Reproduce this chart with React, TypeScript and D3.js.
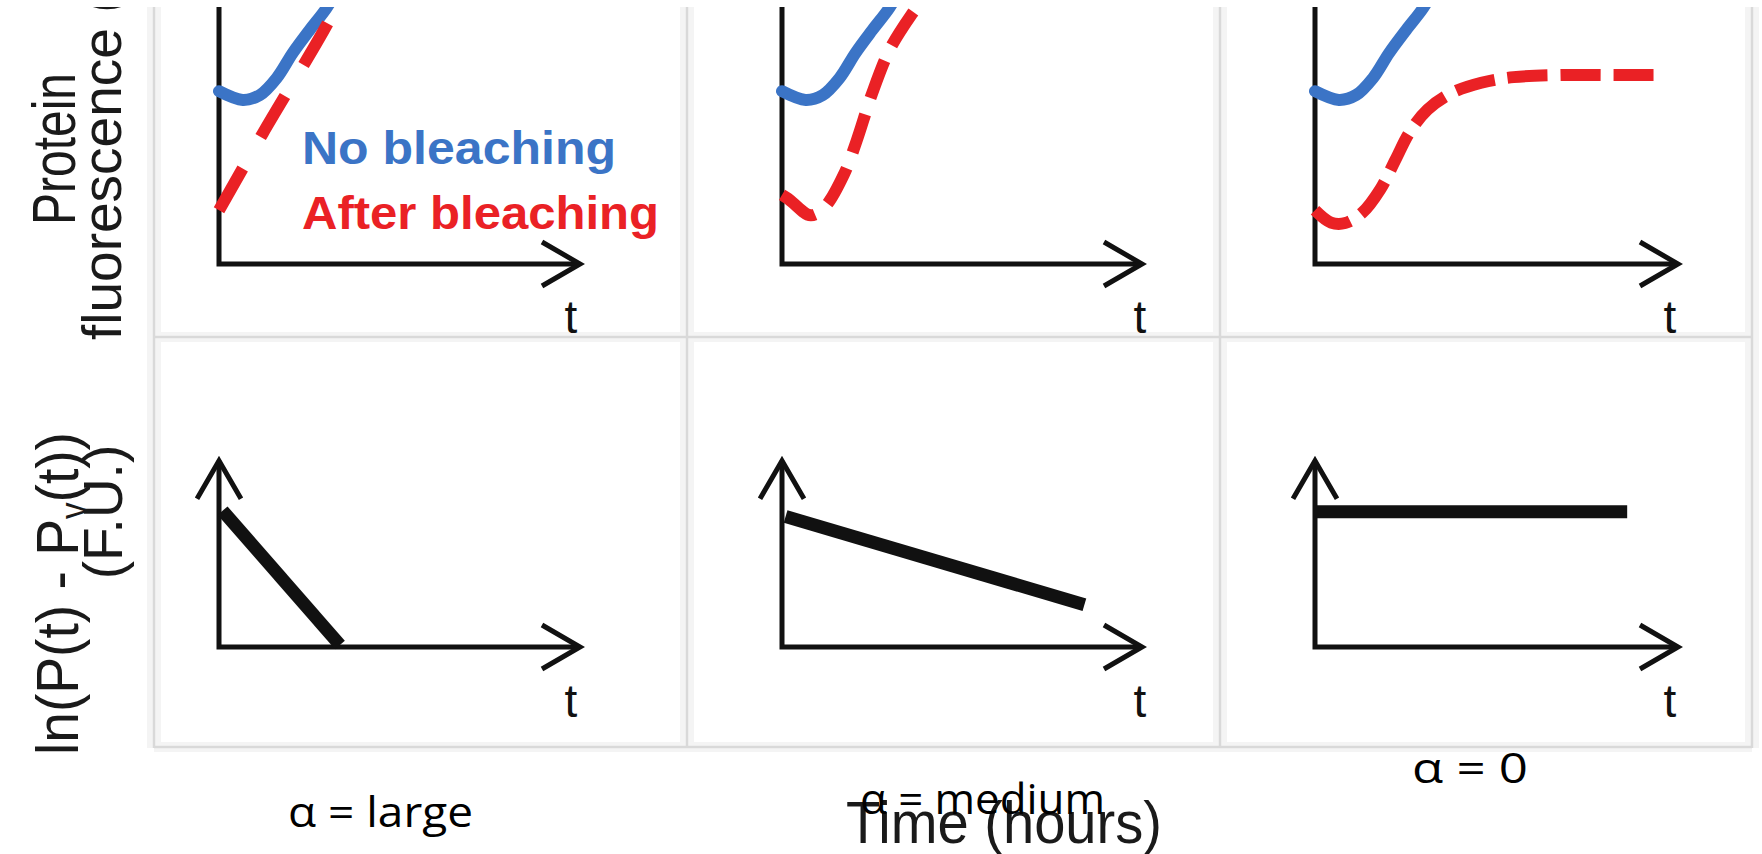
import React from "react";
import * as d3 from "d3";

// ---- data ----
const alphaLabels = ["α  = large", "α  = medium", "α  = 0"];
const topLegend = ["No bleaching", "After bleaching"];
const yLabelTop = ["Protein", "fluorescence (F.U.)"];
const axisLetter = "t";
const xTitle = "Time (hours)";

// top row: protein fluorescence curves, t in [0,10], value in [0,10]
const noBleaching: [number, number][] = [
  [0, 6.75], [0.66, 6.41], [1.13, 6.6], [1.6, 7.27], [2.04, 8.24], [2.51, 9.14], [2.98, 10.0], [3.31, 10.8],
];
const afterLarge: [number, number][] = [
  [0, 2.1], [1.22, 5.12], [3.16, 9.8], [3.45, 10.8],
];
const afterMedium: [number, number][] = [
  [0, 2.7], [0.17, 2.55], [0.8, 1.9], [1.2, 2.25], [1.72, 3.5], [2.07, 4.8], [2.5, 6.65], [3.0, 8.4], [3.6, 9.75], [3.95, 10.4],
];
const afterZero: [number, number][] = [
  [0, 2.1], [0.44, 1.62], [0.83, 1.6], [1.3, 2.0], [1.8, 2.92], [2.22, 4.08], [2.6, 5.13], [3.1, 6.03],
  [3.78, 6.69], [4.58, 7.08], [5.47, 7.3], [6.77, 7.38], [8.26, 7.38], [9.64, 7.38],
];
// bottom row: ln(P - Pv) lines
const logLarge: [number, number][] = [[0.1, 7.1], [3.35, 0.1]];
const logMedium: [number, number][] = [[0.1, 6.8], [8.4, 2.2]];
const logZero: [number, number][] = [[0, 7.05], [8.6, 7.05]];

const afterSeries = [afterLarge, afterMedium, afterZero];
const logSeries = [logLarge, logMedium, logZero];
const dashes = ["48 36", "40 17", "40 13"];

const BLUE = "#3b74c6";
const RED = "#ea2125";
const INK = "#111";

export default function App() {
  const W = 1762, H = 854;
  const origins = [219, 782, 1315];
  const tips = [580, 1142, 1678];
  const xs = origins.map((o, i) => d3.scaleLinear().domain([0, 10]).range([o, tips[i]]));
  const topY = d3.scaleLinear().domain([0, 10]).range([264, 8]);
  const botY = d3.scaleLinear().domain([0, 10]).range([647, 455]);
  const top0 = topY(0), bot0 = botY(0), botTop = botY(9.7);

  const curve = (xsI: d3.ScaleLinear<number, number>, ys: d3.ScaleLinear<number, number>) =>
    d3.line<[number, number]>().x(d => xsI(d[0])).y(d => ys(d[1])).curve(d3.curveCatmullRom.alpha(0.5));
  const straight = (xsI: d3.ScaleLinear<number, number>, ys: d3.ScaleLinear<number, number>) =>
    d3.line<[number, number]>().x(d => xsI(d[0])).y(d => ys(d[1]));

  const hArrow = (x: number, y: number) => `M${x - 38},${y - 22}L${x},${y}L${x - 38},${y + 22}`;
  const vArrow = (x: number, y: number) => `M${x - 22},${y + 38}L${x},${y}L${x + 22},${y + 38}`;

  const vBorders = [154, 687, 1220, 1752];
  const hBorders = [337, 747];
  const sans = "Liberation Sans, Arial, Helvetica, sans-serif";
  const narrow = "Liberation Sans Narrow, Open Sans, Liberation Sans, sans-serif";
  const alphaX = [288, 860, 1412];
  const alphaY = [827, 814, 783];
  const alphaLen = [185, 245, 116];
  const tX = [571, 1140, 1670];

  return (
    <svg width={W} height={H} style={{ position: "absolute", left: 0, top: 0, background: "#fff" }}>
      <rect x={0} y={0} width={W} height={H} fill="#fff" />
      {/* panel grid */}
      <g>
        {vBorders.map((x, i) => (
          <line key={"vs" + i} x1={x} x2={x} y1={0} y2={748} stroke="#f4f4f4" strokeWidth={14} />
        ))}
        {hBorders.map((y, i) => (
          <line key={"hs" + i} x1={154} x2={1752} y1={y} y2={y} stroke="#f4f4f4" strokeWidth={10} />
        ))}
        {vBorders.map((x, i) => (
          <line key={"v" + i} x1={x} x2={x} y1={0} y2={748} stroke="#d9d9d9" strokeWidth={2.5} />
        ))}
        {hBorders.map((y, i) => (
          <line key={"h" + i} x1={154} x2={1752} y1={y} y2={y} stroke="#d9d9d9" strokeWidth={2.5} />
        ))}
      </g>

      {/* top row */}
      {origins.map((o, i) => (
        <g key={"top" + i}>
          <path d={`M${o},0L${o},${top0}L${tips[i]},${top0}`} fill="none" stroke={INK} strokeWidth={5} strokeLinejoin="miter" />
          <path d={hArrow(tips[i], top0)} fill="none" stroke={INK} strokeWidth={5} strokeLinejoin="miter" />
          <path d={curve(xs[i], topY)(noBleaching) || ""} fill="none" stroke={BLUE} strokeWidth={12} strokeLinecap="round" />
          <path d={curve(xs[i], topY)(afterSeries[i]) || ""} fill="none" stroke={RED} strokeWidth={12}
            strokeDasharray={dashes[i]} strokeLinecap="butt" />
          <text x={tX[i]} y={333} textAnchor="middle" fontFamily={sans} fontSize={46} fill={INK}>{axisLetter}</text>
        </g>
      ))}

      {/* legend */}
      <text x={302} y={164} fontFamily={sans} fontWeight="bold" fontSize={46} fill={BLUE}
        textLength={314} lengthAdjust="spacingAndGlyphs">{topLegend[0]}</text>
      <text x={302} y={229} fontFamily={sans} fontWeight="bold" fontSize={46} fill={RED}
        textLength={357} lengthAdjust="spacingAndGlyphs">{topLegend[1]}</text>

      {/* bottom row */}
      {origins.map((o, i) => (
        <g key={"bot" + i}>
          <path d={`M${o},${botTop}L${o},${bot0}L${tips[i]},${bot0}`} fill="none" stroke={INK} strokeWidth={5} strokeLinejoin="miter" />
          <path d={hArrow(tips[i], bot0)} fill="none" stroke={INK} strokeWidth={5} strokeLinejoin="miter" />
          <path d={vArrow(o, botTop)} fill="none" stroke={INK} strokeWidth={5} strokeLinejoin="miter" />
          <path d={straight(xs[i], botY)(logSeries[i]) || ""} fill="none" stroke={INK} strokeWidth={13} strokeLinecap="butt" />
          <text x={tX[i]} y={717} textAnchor="middle" fontFamily={sans} fontSize={46} fill={INK}>{axisLetter}</text>
        </g>
      ))}

      {/* y labels */}
      <text transform="translate(75,225) rotate(-90)" fontFamily={sans} fontSize={62} fill="#1a1a1a"
        textLength={152} lengthAdjust="spacingAndGlyphs">{yLabelTop[0]}</text>
      <text transform="translate(121,340) rotate(-90)" fontFamily={sans} fontSize={55} fill="#1a1a1a">{yLabelTop[1]}</text>
      <text transform="translate(78,755) rotate(-90)" fontFamily={sans} fontSize={60} fill="#1a1a1a"
        textLength={323} lengthAdjust="spacingAndGlyphs">
        ln(P(t) - P<tspan dy={8} fontSize={36}>v</tspan><tspan dy={-8}>(t))</tspan>
      </text>
      <text transform="translate(122,512) rotate(-90)" textAnchor="middle" fontFamily={sans} fontSize={55} fill="#1a1a1a">(F.U.)</text>

      {/* bottom texts */}
      <text x={846} y={843} fontFamily={sans} fontSize={60} fill="#1a1a1a" textLength={316} lengthAdjust="spacingAndGlyphs">{xTitle}</text>
      {alphaLabels.map((s, i) => (
        <text key={"a" + i} x={alphaX[i]} y={alphaY[i]} fontFamily={narrow} fontSize={42} fill="#000"
          textLength={alphaLen[i]} lengthAdjust="spacingAndGlyphs">{s}</text>
      ))}

      <rect x={0} y={0} width={W} height={7} fill="#fff" />
    </svg>
  );
}
